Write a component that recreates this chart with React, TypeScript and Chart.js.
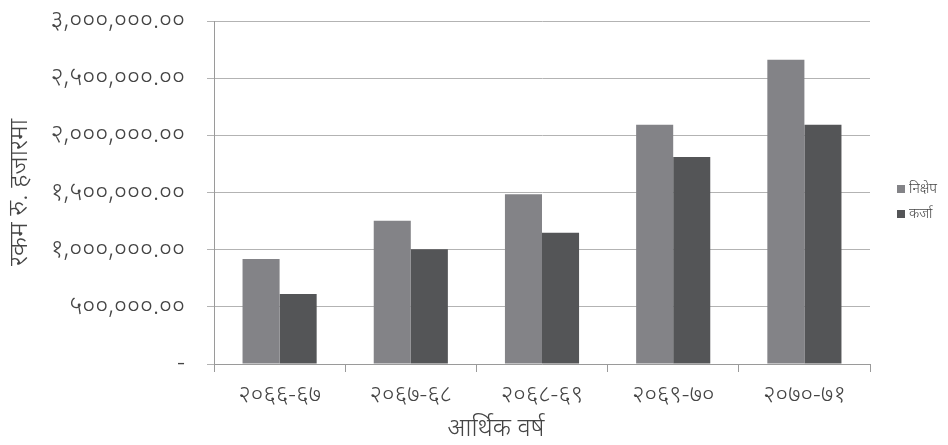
import React, { useEffect, useRef } from "react";
import { Chart, registerables } from "chart.js";

Chart.register(...registerables);

const categories = ["२०६६-६७", "२०६७-६८", "२०६८-६९", "२०६९-७०", "२०७०-७१"];
const seriesNames = ["निक्षेप", "कर्जा"];
const deposits = [918000, 1254000, 1484000, 2093000, 2662000];
const loans = [612000, 1003000, 1149000, 1810000, 2093000];
const seriesColors = ["#838387", "#545557"];
const yTitle = "रकम रु. हजारमा";
const xTitle = "आर्थिक वर्ष";
const yMax = 3000000;
const yStep = 500000;

const DEV_DIGITS = ["०", "१", "२", "३", "४", "५", "६", "७", "८", "९"];
const toDev = (s: string) => s.replace(/[0-9]/g, (d) => DEV_DIGITS[Number(d)]);

const FONT = "'Noto Sans', 'Noto Sans Devanagari', 'Lohit Devanagari', 'FreeSans', sans-serif";
const TEXT = "#454545";

const sidePlugin = {
  id: "sideLegend",
  afterDraw(chart: any) {
    const { ctx, chartArea } = chart;
    ctx.save();
    ctx.font = `300 14px ${FONT}`;
    ctx.textBaseline = "middle";
    ctx.textAlign = "left";
    chart.data.datasets.forEach((ds: any, i: number) => {
      const y = 189 + i * 25;
      const x = chartArea.right + 27;
      ctx.fillStyle = ds.backgroundColor;
      ctx.fillRect(x, y - 4, 8, 8);
      ctx.fillStyle = TEXT;
      ctx.fillText(ds.label, x + 12, y);
    });
    ctx.font = `300 25px ${FONT}`;
    ctx.textAlign = "center";
    ctx.fillStyle = TEXT;
    ctx.fillText(xTitle, chartArea.left + 282, 429);
    ctx.restore();
  },
};

export default function App() {
  const ref = useRef<HTMLCanvasElement | null>(null);
  useEffect(() => {
    if (!ref.current) return;
    const chart = new Chart(ref.current, {
      type: "bar",
      data: {
        labels: categories,
        datasets: [
          { label: seriesNames[0], data: deposits, backgroundColor: seriesColors[0] },
          { label: seriesNames[1], data: loans, backgroundColor: seriesColors[1] },
        ],
      },
      plugins: [sidePlugin],
      options: {
        animation: false,
        responsive: true,
        maintainAspectRatio: false,
        layout: { padding: { top: 0, right: 78, left: 0, bottom: 0 } },
        datasets: { bar: { categoryPercentage: 0.565, barPercentage: 1 } },
        plugins: { legend: { display: false }, tooltip: { enabled: false } },
        scales: {
          x: {
            offset: true,
            grid: { offset: true, drawOnChartArea: false, drawTicks: true, tickLength: 8, color: "#9a9a9a" },
            border: { color: "#9a9a9a" },
            ticks: { color: TEXT, font: { family: FONT, size: 24, weight: "300" }, padding: 9, maxRotation: 0 },
            afterFit: (scale: any) => { scale.height = 81; scale.paddingLeft = 0; scale.paddingRight = 0; },
          },
          y: {
            min: 0,
            max: yMax,
            ticks: {
              stepSize: yStep,
              color: TEXT,
              padding: 22,
              font: { family: FONT, size: 25, weight: "300" },
              callback: (v: any) => (Number(v) === 0 ? "-" : toDev(Number(v).toLocaleString("en-US", { minimumFractionDigits: 2, maximumFractionDigits: 2 }))),
            },
            grid: { color: "#b3b3b3", tickLength: 7 },
            border: { color: "#9a9a9a" },
            title: { display: true, text: yTitle, color: TEXT, font: { family: FONT, size: 26, weight: "300" }, padding: { top: 4, bottom: 4 } },
            afterFit: (scale: any) => { scale.width = 214; scale.paddingTop = 21; scale.paddingBottom = 0; },
          },
        },
      },
    });
    return () => chart.destroy();
  }, []);
  return (
    <div style={{ position: "fixed", left: 0, top: 0, width: 948, height: 445, background: "#fff" }}>
      <canvas ref={ref} />
    </div>
  );
}
